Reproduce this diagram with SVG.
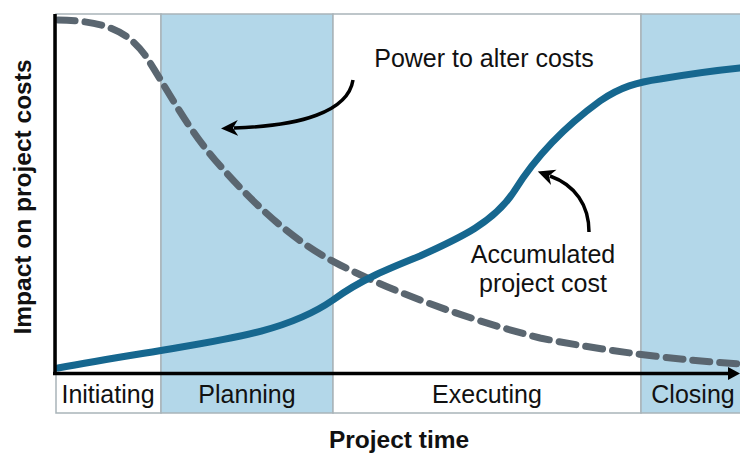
<svg xmlns="http://www.w3.org/2000/svg" width="740" height="453" viewBox="0 0 740 453">
<defs>
<style>
.band-blue{fill:#b3d7e9;stroke:#a9b4b9;stroke-width:1.5}
.band-white{fill:#ffffff;stroke:#a9b4b9;stroke-width:1.5}
.lbl{font-family:"Liberation Sans",Arial,sans-serif;font-size:25px;fill:#111;text-anchor:middle}
.ttl{font-family:"Liberation Sans",Arial,sans-serif;font-size:24.5px;font-weight:bold;fill:#111;text-anchor:middle}
.axis{stroke:#000;stroke-width:3.5;fill:none}
.dash{stroke:#5a6670;stroke-width:7;fill:none;stroke-dasharray:17 10;stroke-linecap:round}
.cost{stroke:#16678f;stroke-width:7;fill:none;stroke-linecap:round}
.call{stroke:#000;stroke-width:3.5;fill:none}
</style>
<marker id="ah" markerWidth="18" markerHeight="18" refX="4" refY="9" orient="auto" markerUnits="userSpaceOnUse" viewBox="0 0 18 18">
<path d="M0,1 L17,9 L0,17 L5,9 Z" fill="#000"/>
</marker>
</defs>
<rect width="740" height="453" fill="#fff"/>
<g id="phases">
<rect id="initiating" class="band-white" x="56" y="14" width="105" height="399"/>
<rect id="planning" class="band-blue" x="161" y="14" width="172" height="399"/>
<rect id="executing" class="band-white" x="333" y="14" width="308" height="399"/>
<rect id="closing" class="band-blue" x="641" y="14" width="102" height="399"/>
</g>
<g id="phase-labels">
<text class="lbl" x="108" y="403">Initiating</text>
<text class="lbl" x="247" y="403">Planning</text>
<text class="lbl" x="487" y="403">Executing</text>
<text class="lbl" x="693" y="403">Closing</text>
</g>
<g id="curves">
<path id="power" class="dash" d="M58,20 C100,21 125,28 145,55 C165,85 185,125 215,160 C250,200 290,240 340,265 C400,295 470,320 540,338 C610,352 680,360 740,364"/>
<path id="accumulated" class="cost" d="M58,368 C100,360 140,354 170,349 C230,339 290,330 333,300 C360,280 390,268 420,256 C460,238 495,222 515,190 C535,158 560,130 600,101 C620,87 638,82 660,79 C690,74 720,70 740,68"/>
</g>
<g id="axes">
<line class="axis" x1="55" y1="14" x2="55" y2="375"/>
<line class="axis" x1="53" y1="373.5" x2="733" y2="373.5"/>
<path d="M728,367 L740,373.5 L728,380 Z" fill="#000"/>
</g>
<g id="connectors">
<path class="call" d="M353,80 C348,112 300,126 234,128" marker-end="url(#ah)"/>
<path class="call" d="M589,232 C589,205 575,185 550,176" marker-end="url(#ah)"/>
</g>
<g id="annotations">
<text class="lbl" x="484" y="67">Power to alter costs</text>
<text class="lbl" x="543" y="263">Accumulated</text>
<text class="lbl" x="543" y="292">project cost</text>
</g>
<g id="axis-titles">
<text class="ttl" x="399" y="448">Project time</text>
<text class="ttl" transform="translate(31,197) rotate(-90)" x="0" y="0">Impact on project costs</text>
</g>
</svg>
